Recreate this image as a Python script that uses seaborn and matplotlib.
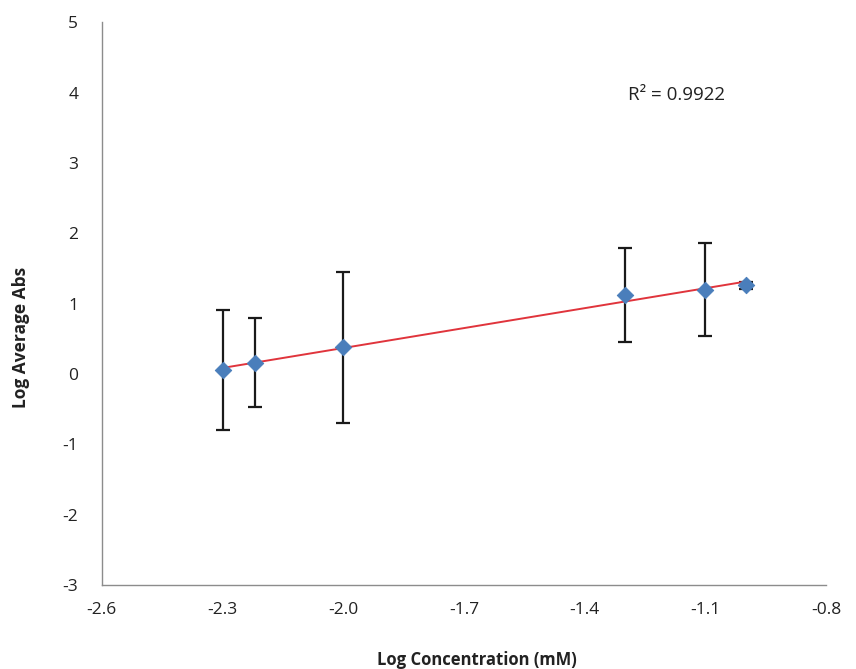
import matplotlib
matplotlib.use("Agg")
import matplotlib.pyplot as plt
import seaborn as sns
import pandas as pd
import numpy as np

log_conc = [-2.30, -2.22, -2.00, -1.30, -1.10, -1.00]
log_abs = [0.06, 0.16, 0.38, 1.12, 1.20, 1.26]
err = [0.85, 0.63, 1.07, 0.67, 0.66, 0.05]
x_ticks = [-2.6, -2.3, -2.0, -1.7, -1.4, -1.1, -0.8]
y_ticks = [-3, -2, -1, 0, 1, 2, 3, 4, 5]
r2_label = "R² = 0.9922"

df = pd.DataFrame({"x": log_conc, "y": log_abs, "err": err})

sns.set_theme(style="white")
plt.rcParams["font.family"] = ["Open Sans", "DejaVu Sans"]

fig = plt.figure(figsize=(8.56, 6.69), dpi=100)
ax = fig.add_axes([0.119, 0.1256, 0.846, 0.841])

ax.errorbar(df["x"], df["y"], yerr=df["err"], fmt="none", ecolor="#1a1a1a",
            elinewidth=1.6, capsize=5, capthick=1.6, zorder=2)
sns.regplot(data=df, x="x", y="y", ax=ax, ci=None, scatter=False,
            line_kws=dict(color="#e0343c", lw=1.4, zorder=3))
sns.scatterplot(data=df, x="x", y="y", ax=ax, marker="D", s=70,
                color="#4a7ebb", edgecolor="#4a7ebb", zorder=4)

ax.set_xlim(-2.6, -0.8)
ax.set_ylim(-3, 5)
ax.set_xticks(x_ticks)
ax.set_xticklabels([f"{t:.1f}" for t in x_ticks])
ax.set_yticks(y_ticks)
ax.set_yticklabels([str(t) for t in y_ticks])

for s in ["top", "right"]:
    ax.spines[s].set_visible(False)
for s in ["left", "bottom"]:
    ax.spines[s].set_color("#8c8c8c")
    ax.spines[s].set_linewidth(1.0)
ax.tick_params(axis="both", which="major", direction="out", length=5,
               color="#8c8c8c", width=1.0, labelsize=12.5, labelcolor="#222222")
ax.tick_params(axis="x", pad=7)
ax.tick_params(axis="y", pad=12)

ax.set_xlabel("Log Concentration (mM)", fontsize=12, fontweight="bold",
              color="#222222")
ax.set_ylabel("Log Average Abs", fontsize=12.5, fontweight="bold",
              color="#222222")
ax.xaxis.set_label_coords(0.518, -0.117)
ax.yaxis.set_label_coords(-0.099, 0.44)

ax.text(-1.292, 3.96, r2_label, fontsize=13.5, color="#222222",
        ha="left", va="center")

fig.savefig("out.png", dpi=100)
